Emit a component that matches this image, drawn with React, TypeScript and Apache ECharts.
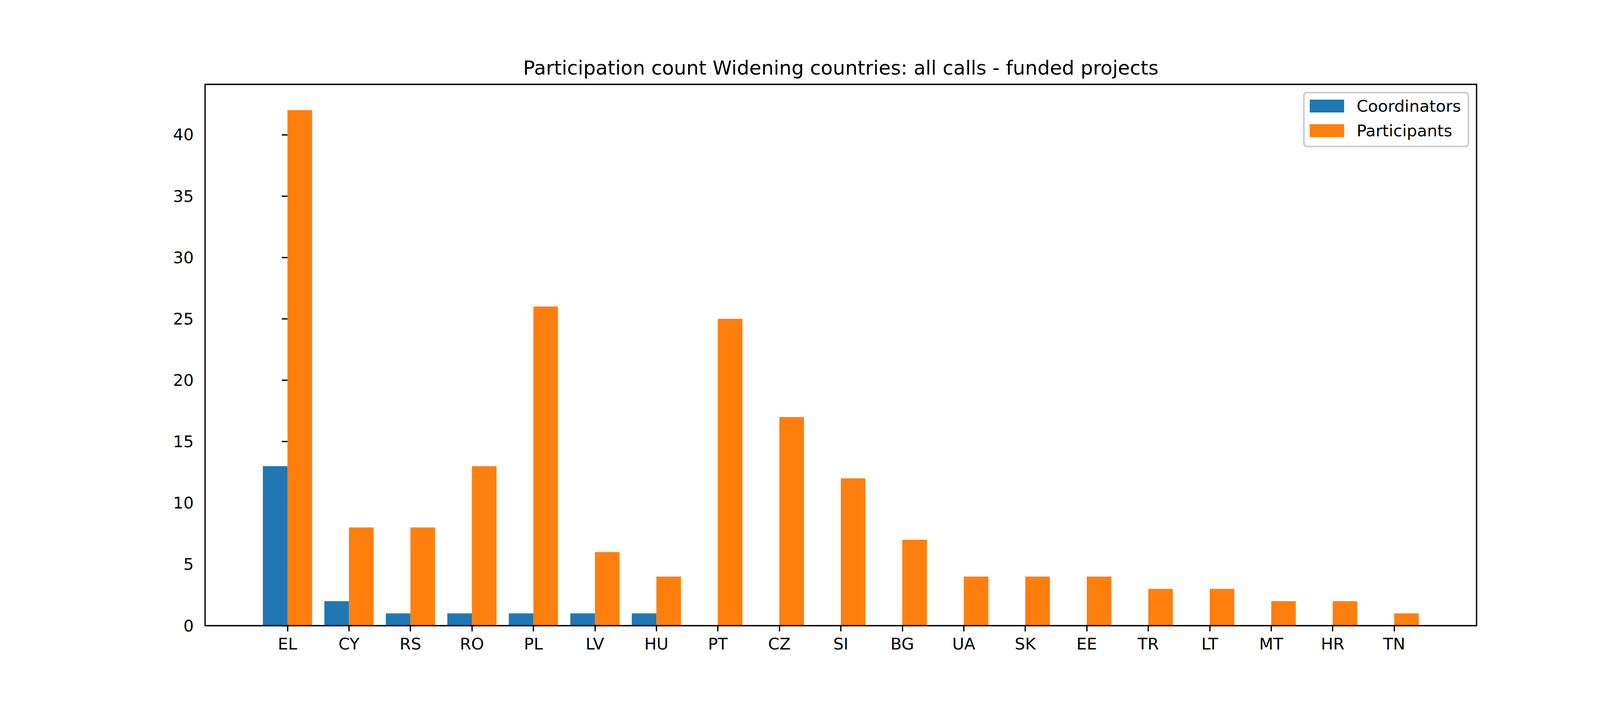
import React, { useEffect, useRef } from "react";
import * as echarts from "echarts";

const categories = ["EL", "CY", "RS", "RO", "PL", "LV", "HU", "PT", "CZ", "SI", "BG", "UA", "SK", "EE", "TR", "LT", "MT", "HR", "TN"];
const coordinators = [13, 2, 1, 1, 1, 1, 1, 0, 0, 0, 0, 0, 0, 0, 0, 0, 0, 0, 0];
const participants = [42, 8, 8, 13, 26, 6, 4, 25, 17, 12, 7, 4, 4, 4, 3, 3, 2, 2, 1];
const yTicks = [0, 5, 10, 15, 20, 25, 30, 35, 40];
const xTicks = categories.map((_, i) => i);
const titleText = "Participation count Widening countries: all calls - funded projects";

const FONT = "DejaVu Sans";
const FS = 41.67;
const LW = 3.33;

export default function App() {
  const ref = useRef<HTMLDivElement>(null);
  useEffect(() => {
    document.body.style.margin = "0";
    const chart = echarts.init(ref.current!, undefined, { renderer: "svg" });
    const gridL = 525, gridT = 216, gridW = 3255, gridH = 1386;
    chart.setOption({
      animation: false,
      backgroundColor: "#ffffff",
      grid: { left: gridL, top: gridT, width: gridW, height: gridH, show: false },
      xAxis: {
        type: "value",
        min: -1.34,
        max: 19.34,
        axisLine: { show: false },
        splitLine: { show: false },
        axisTick: { show: true, customValues: xTicks, length: 14.6, lineStyle: { color: "#000", width: LW } },
        axisLabel: {
          customValues: xTicks,
          formatter: (v: number) => categories[Math.round(v)] ?? "",
          margin: 26,
          fontSize: FS,
          lineHeight: FS,
          fontFamily: FONT,
          color: "#000",
        },
      },
      yAxis: {
        type: "value",
        min: 0,
        max: 44.1,
        axisLine: { show: false },
        splitLine: { show: false },
        axisTick: { show: true, customValues: yTicks, length: 14.6, lineStyle: { color: "#000", width: LW } },
        axisLabel: {
          customValues: yTicks,
          margin: 29,
          fontSize: FS,
          fontFamily: FONT,
          color: "#000",
        },
      },
      legend: {
        orient: "vertical",
        right: 441,
        top: 237,
        itemWidth: 88,
        itemHeight: 33,
        itemGap: 21,
        padding: [13.5, 19, 19.5, 15],
        borderColor: "#cccccc",
        borderWidth: 4.17,
        borderRadius: 8,
        backgroundColor: "rgba(255,255,255,0.8)",
        icon: "rect",
        selectedMode: false,
        textStyle: { fontSize: FS, fontFamily: FONT, color: "#000", padding: [0, 0, 0, 27] },
        data: ["Coordinators", "Participants"],
      },
      graphic: [
        {
          type: "text",
          x: gridL + gridW / 2,
          y: 174,
          style: {
            text: titleText,
            fontSize: 50,
            fontFamily: FONT,
            fill: "#000",
            align: "center",
            verticalAlign: "middle",
          },
        },
        {
          type: "rect",
          z: 100,
          shape: { x: gridL, y: gridT, width: gridW, height: gridH },
          style: { fill: "none", stroke: "#000", lineWidth: LW },
        },
      ],
      series: [
        {
          name: "Coordinators",
          type: "bar",
          barWidth: "40%",
          barGap: "0%",
          itemStyle: { color: "#1f77b4" },
          data: coordinators.map((v, i) => [i, v]),
        },
        {
          name: "Participants",
          type: "bar",
          barWidth: "40%",
          barGap: "0%",
          itemStyle: { color: "#ff7f0e" },
          data: participants.map((v, i) => [i, v]),
        },
      ],
    });
    return () => chart.dispose();
  }, []);
  return <div ref={ref} style={{ width: 4200, height: 1800 }} />;
}
